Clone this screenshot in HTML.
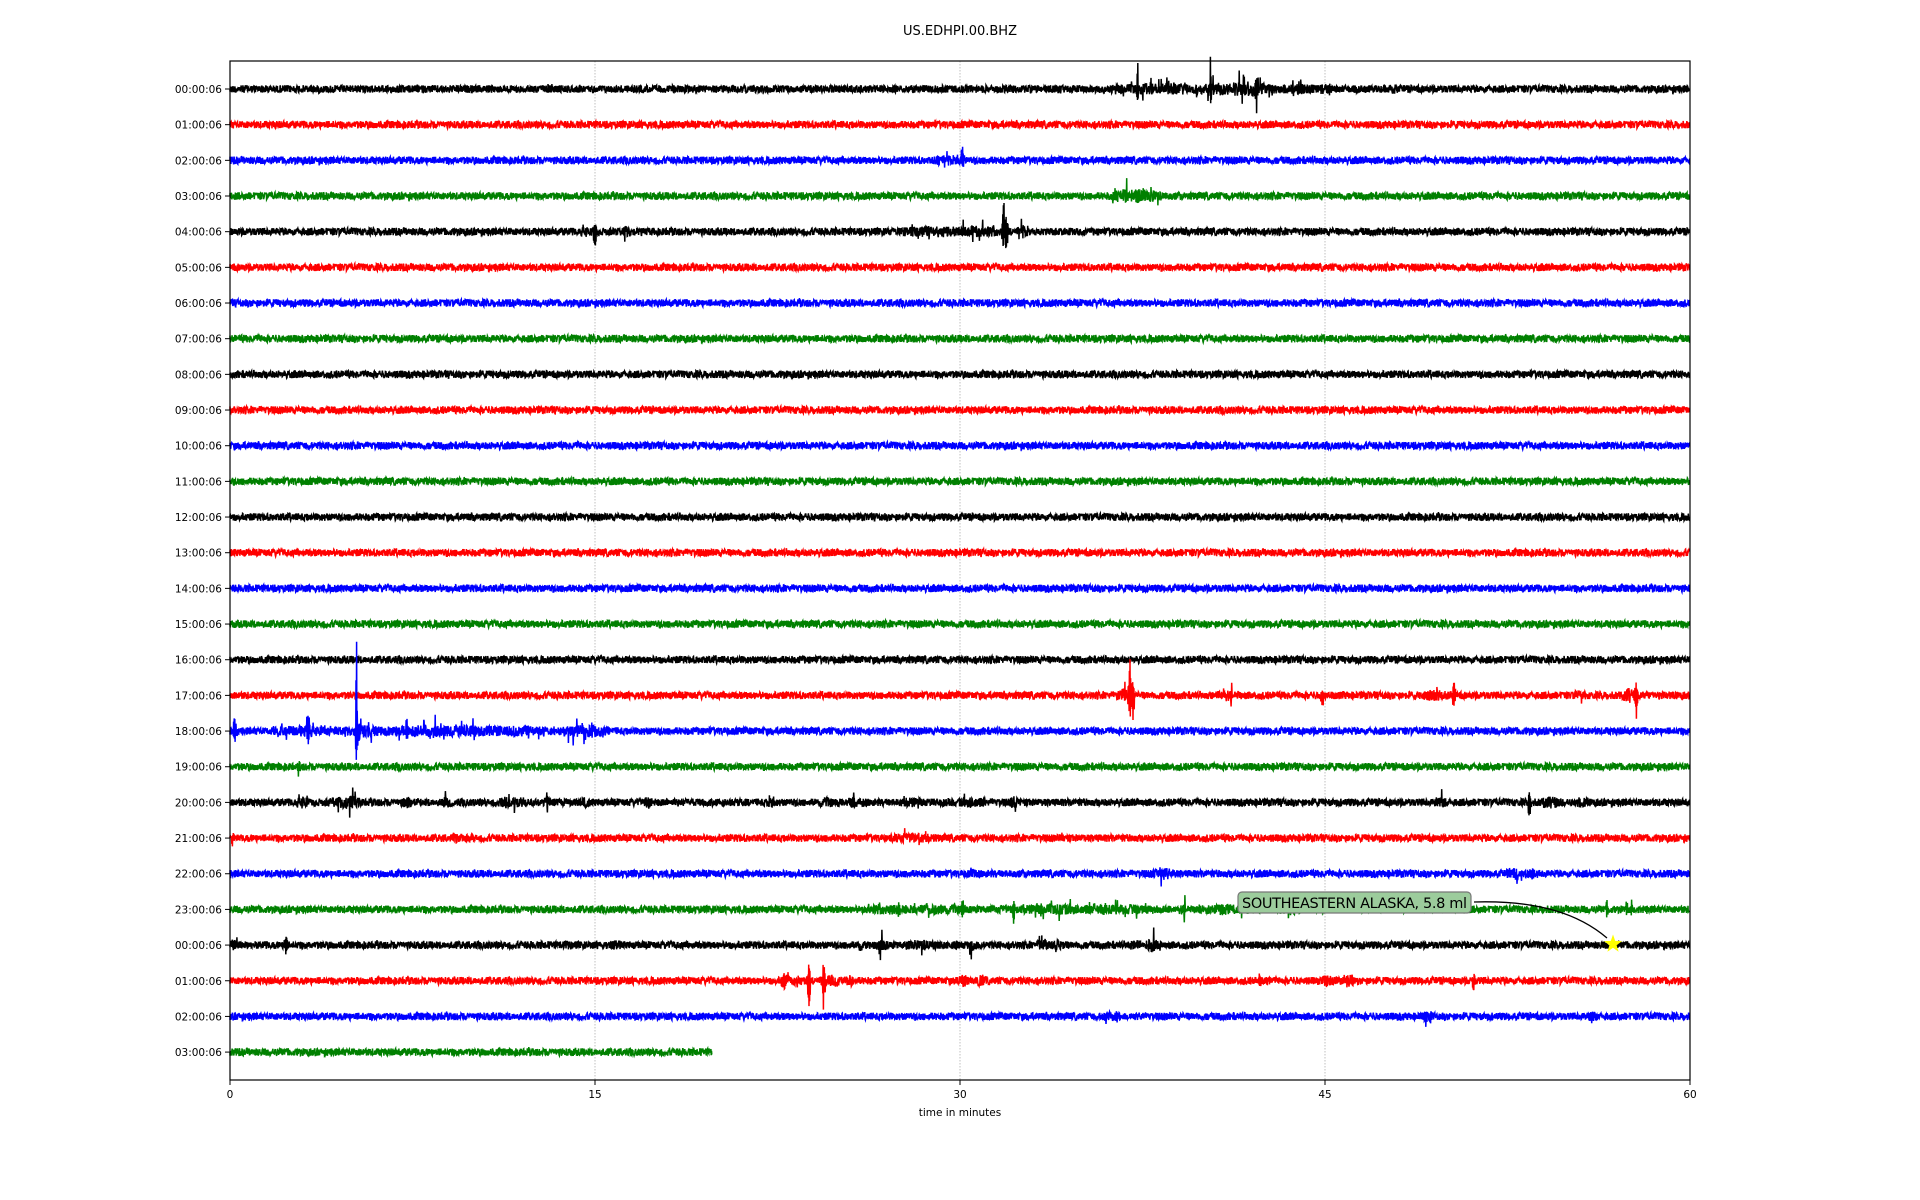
<!DOCTYPE html>
<html><head><meta charset="utf-8"><style>
html,body{margin:0;padding:0;background:#fff;}
svg{display:block;}
text{font-family:"DejaVu Sans","Liberation Sans",sans-serif;fill:#000;}
</style></head><body>
<svg id="s" width="1920" height="1200" viewBox="0 0 1920 1200" xmlns="http://www.w3.org/2000/svg">
<text x="960" y="35" font-size="13" text-anchor="middle">US.EDHPI.00.BHZ</text>
<g stroke="#b0b0b0" stroke-width="0.8" stroke-dasharray="1.5,1.5">
<line x1="595" y1="61" x2="595" y2="1080"/><line x1="960" y1="61" x2="960" y2="1080"/><line x1="1325" y1="61" x2="1325" y2="1080"/>
</g>
<g id="tr"></g>
<rect x="230" y="61" width="1460" height="1019" fill="none" stroke="#000" stroke-width="1.2"/>
<g id="yl" font-size="10.5"></g>
<g font-size="10.5" text-anchor="middle">
<line x1="230" y1="1080" x2="230" y2="1085" stroke="#000"/><text x="230" y="1098">0</text>
<line x1="595" y1="1080" x2="595" y2="1085" stroke="#000"/><text x="595" y="1098">15</text>
<line x1="960" y1="1080" x2="960" y2="1085" stroke="#000"/><text x="960" y="1098">30</text>
<line x1="1325" y1="1080" x2="1325" y2="1085" stroke="#000"/><text x="1325" y="1098">45</text>
<line x1="1690" y1="1080" x2="1690" y2="1085" stroke="#000"/><text x="1690" y="1098">60</text>
<text x="960" y="1116">time in minutes</text>
</g>
<path d="M1474,902 C1540,900 1580,915 1607,938" fill="none" stroke="#000" stroke-width="1.3"/>
<rect x="1238" y="892" width="233" height="21" rx="4" fill="#9ccc9c" stroke="#777" stroke-width="1.2"/>
<text x="1242" y="908" font-size="14.5" textLength="225">SOUTHEASTERN ALASKA, 5.8 ml</text>
<polygon id="star" fill="#ffff00" points=""/>
</svg>
<script>
var seed=12345;function r(){seed=(seed*1103515245+12345)%2147483648;return seed/2147483648;}
var cols=["#000","#f00","#00f","#008000"];
var ev={
0:[[37.3,-32,0.05],[37.5,8,1.5],[38.5,10,1.2],[40.3,-35,0.05],[40.5,10,1.5],[41.5,12,1.2],[42.2,20,0.1],[42.5,8,1],[44,8,0.8],[45,8,0.3],[47.8,8,0.2]],
2:[[29.5,8,0.6],[30.1,-16,0.1]],
3:[[36.7,18,0.6],[37.3,-22,0.3],[37.9,12,0.5]],
4:[[14.6,10,0.2],[15.0,22,0.1],[16.3,12,0.3],[28.5,8,1.5],[30.5,12,1.5],[31.8,-32,0.1],[31.9,30,0.1],[32.6,16,0.3]],
17:[[36.7,18,0.3],[37.0,-45,0.1],[37.1,30,0.1],[41.0,12,0.6],[44.9,12,0.1],[49.5,10,0.8],[50.3,18,0.1],[55.5,8,0.3],[57.5,20,0.3],[57.8,22,0.1]],
18:[[0.2,-18,0.1],[3.2,-26,0.1],[5.2,-110,0.05],[5.25,20,0.1],[3,10,1.5],[5.5,10,1.2],[8,12,2],[10,9,2],[12,8,1.5],[14.3,12,1.2],[15,10,0.6]],
19:[[2.8,10,0.1]],
20:[[3,15,0.3],[4.6,12,0.6],[5,12,0.4],[7.3,14,0.2],[8.9,14,0.2],[11.3,12,0.3],[11.8,10,0.3],[13,8,0.2],[14.6,10,0.2],[17.2,14,0.2],[22.2,10,0.2],[24.5,8,0.4],[25.6,10,0.3],[28,7,0.5],[30.5,10,0.6],[32.2,16,0.2],[49.8,12,0.3],[53.4,18,0.1],[54.3,12,0.5],[55.5,8,0.3]],
21:[[28,8,1.0],[9.3,6,0.2],[34.2,8,0.1],[0.1,8,0.1]],
22:[[38.4,12,0.5],[52.8,10,0.4],[53.5,10,0.3],[30.5,6,0.2]],
23:[[27,8,1],[29,8,1.5],[30.1,-24,0.05],[32.2,22,0.05],[34,8,2.5],[36.8,8,1.5],[39.2,12,0.3],[41,8,1.5],[43.5,12,0.6],[56.6,-14,0.05],[57.4,-10,0.05],[57.6,-8,0.05]],
24:[[0.1,10,0.3],[2.3,10,0.1],[13.9,8,0.2],[15.9,10,0.2],[25.9,12,0.2],[26.8,14,0.3],[28.5,8,0.8],[30.5,14,0.2],[33.4,14,0.3],[34,8,0.3],[37.2,12,0.3],[37.9,18,0.3]],
25:[[22.8,26,0.2],[23.3,22,0.2],[23.8,30,0.1],[24.4,30,0.1],[24.8,14,0.6],[25.5,12,0.2],[30.1,16,0.3],[30.8,12,0.3],[42.3,10,0.1],[45.1,12,0.3],[46,12,0.3],[51.1,10,0.1]],
26:[[36.2,10,0.4],[49.2,8,0.3],[56,6,0.3]]
};
var g=document.getElementById('tr'),yl=document.getElementById('yl');
var out="",lab="";
for(var i=0;i<28;i++){
 var y0=89+i*35.67;var xmax=(i==27)?230+19.8/60*1460:1690;
 var d="M230,"+y0.toFixed(1);var e=ev[i]||[];
 for(var x=230;x<=xmax;x+=0.3){
  var m=(x-230)/1460*60;var a=3.8;
  var extra=0;
  for(var k=0;k<e.length;k++){var dm=Math.abs(m-e[k][0]);var w=e[k][2];
   if(dm<w){var f=1-dm/w; if(w<=0.12){extra+=e[k][1]*f*(r()*0.5+0.5)*(x%0.6<0.3?1:-0.6);} else a+=Math.abs(e[k][1])*f*(r()<0.06?1.1:0.2);}}
  var v=(r()*2-1)*a+(r()<0.004?(r()*2-1)*3:0)+extra;
  d+="L"+x.toFixed(2)+","+(y0+v).toFixed(1);
 }
 out+='<path d="'+d+'" fill="none" stroke="'+cols[i%4]+'" stroke-width="1.5"/>';
 var h=(i%24);var hs=(h<10?"0":"")+h+":00:06";
 lab+='<line x1="225" y1="'+y0+'" x2="230" y2="'+y0+'" stroke="#000"/><text x="222" y="'+(y0+4)+'" text-anchor="end">'+hs+'</text>';
}
g.innerHTML=out;yl.innerHTML=lab;
var pts=[],cx=1613,cy=944;for(var k=0;k<10;k++){var rr=k%2?3.8:9.5;var an=-Math.PI/2+k*Math.PI/5;pts.push((cx+rr*Math.cos(an)).toFixed(1)+","+(cy+rr*Math.sin(an)).toFixed(1));}
document.getElementById('star').setAttribute('points',pts.join(' '));
</script>
</body></html>
